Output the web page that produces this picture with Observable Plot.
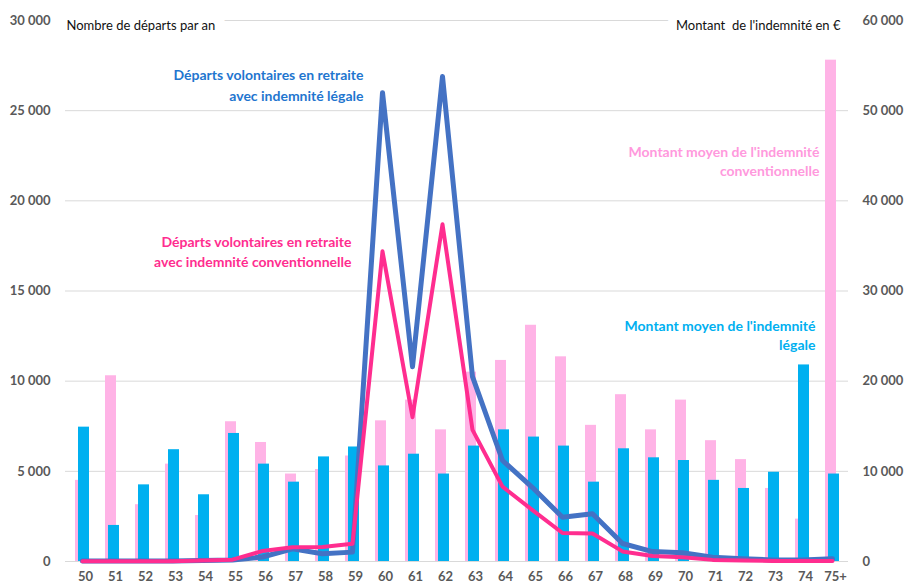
<!DOCTYPE html>
<html>
<head>
<meta charset="utf-8">
<script src="https://cdn.jsdelivr.net/npm/d3@7"></script>
<script src="https://cdn.jsdelivr.net/npm/@observablehq/plot@0.6"></script>
<style>
  html, body { margin: 0; padding: 0; background: #fff; }
  #chart svg { display: block; }
  #chart g[aria-label$="tick label"] text { font-weight: 700; }
</style>
</head>
<body>
<div id="chart"></div>
<script>
// Categories (age)
const ages = ["50","51","52","53","54","55","56","57","58","59","60","61","62","63","64","65","66","67","68","69","70","71","72","73","74","75+"];
// Average amount of legal severance (right axis, €)
const montantLegale = [14900, 4000, 8500, 12400, 7400, 14200, 10800, 8800, 11600, 12700, 10600, 11900, 9700, 12800, 14600, 13800, 12800, 8800, 12500, 11500, 11200, 9000, 8100, 9900, 21800, 9700];
// Average amount of conventional severance (right axis, €)
const montantConventionnelle = [9000, 20600, 6300, 10800, 5100, 15500, 13200, 9700, 10200, 11700, 15600, 17900, 14600, 21000, 22300, 26200, 22700, 15100, 18500, 14600, 17900, 13400, 11300, 8100, 4700, 55600];
// Departures per year with legal severance (left axis)
const departsLegale = [30, 30, 30, 30, 50, 80, 250, 700, 430, 520, 26000, 10800, 26900, 10250, 5600, 4100, 2450, 2650, 1000, 550, 480, 240, 150, 90, 90, 150];
// Departures per year with conventional severance (left axis)
const departsConventionnelle = [20, 20, 20, 20, 50, 100, 580, 790, 800, 980, 17200, 8000, 18700, 7300, 4150, 2850, 1580, 1550, 560, 300, 240, 90, 50, 30, 30, 30];
// Left axis ticks
const leftTicks = [0, 5000, 10000, 15000, 20000, 25000, 30000];

const rows = ages.map((a, i) => ({
  age: a,
  mLeg: montantLegale[i],
  mConv: montantConventionnelle[i],
  dLeg: departsLegale[i],
  dConv: departsConventionnelle[i]
}));

const loc = d3.formatLocale({decimal: ",", thousands: "\u00a0", grouping: [3], currency: ["", " €"]});
const fmt = loc.format(",d");

const font = "Lato, 'Open Sans', sans-serif";

const chart = Plot.plot({
  width: 904,
  height: 585,
  marginLeft: 65,
  marginRight: 56,
  marginTop: 20,
  marginBottom: 24,
  style: {fontFamily: font, fontSize: "13px", color: "#595959", background: "#fff"},
  x: {domain: ages, padding: 0, axis: null},
  y: {domain: [0, 30000], axis: null},
  marks: [
    Plot.ruleY(leftTicks, {stroke: "#d9d9d9", strokeWidth: 1}),
    Plot.barY(rows, {x: "age", y: d => d.mConv / 2, fill: "#ffb3e6", insetLeft: 8, insetRight: 11}),
    Plot.barY(rows, {x: "age", y: d => d.mLeg / 2, fill: "#00b0f0", insetLeft: 11, insetRight: 8}),
    Plot.line(rows, {x: "age", y: "dLeg", stroke: "#4472c4", strokeWidth: 5, strokeLinejoin: "round", strokeLinecap: "round"}),
    Plot.line(rows, {x: "age", y: "dConv", stroke: "#ff2d8f", strokeWidth: 4, strokeLinejoin: "round", strokeLinecap: "round"}),
    Plot.axisY({anchor: "left", ticks: leftTicks, tickSize: 0, tickPadding: 15, tickFormat: fmt, label: null, fill: "#595959"}),
    Plot.axisY({anchor: "right", ticks: leftTicks, tickSize: 0, tickPadding: 14, tickFormat: d => fmt(d * 2), label: null, fill: "#595959"}),
    Plot.axisX({anchor: "bottom", tickSize: 0, tickPadding: 10, label: null, fill: "#595959", dx: 3}),
    Plot.text(["Nombre de départs par an"], {frameAnchor: "top-left", textAnchor: "start", dx: 1, fill: "#111", stroke: "#fff", strokeWidth: 22, fontSize: 13}),
    Plot.text(["Montant\u00a0 de l'indemnité en €"], {frameAnchor: "top-right", textAnchor: "end", dx: -8, fill: "#111", stroke: "#fff", strokeWidth: 18, fontSize: 13}),
    Plot.text(["Départs volontaires en retraite\navec indemnité légale"], {x: ["59"], y: [26470], textAnchor: "end", dx: 11, fill: "#1f76cf", fontWeight: "bold", fontSize: 14, lineHeight: 1.5}),
    Plot.text(["Départs volontaires en retraite\navec indemnité conventionnelle"], {x: ["59"], y: [17220], textAnchor: "end", dx: -1, fill: "#ff2d8f", fontWeight: "bold", fontSize: 14, lineHeight: 1.38}),
    Plot.text(["Montant moyen de l'indemnité\nconventionnelle"], {x: ["74"], y: [22220], textAnchor: "end", dx: 17, fill: "#ff99dd", fontWeight: "bold", fontSize: 14, lineHeight: 1.36}),
    Plot.text(["Montant moyen de l'indemnité\nlégale"], {x: ["74"], y: [12580], textAnchor: "end", dx: 13, fill: "#00b0f0", fontWeight: "bold", fontSize: 14, lineHeight: 1.36})
  ]
});
document.getElementById("chart").appendChild(chart);
</script>
</body>
</html>
